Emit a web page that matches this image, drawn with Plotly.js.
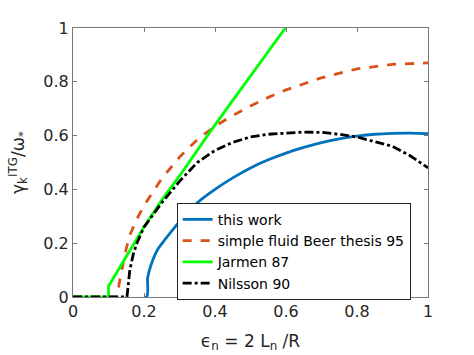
<!DOCTYPE html>
<html>
<head>
<meta charset="utf-8">
<script src="https://cdn.plot.ly/plotly-3.0.1.min.js"></script>
<style>html,body{margin:0;padding:0;background:#fff;}#chart{width:474px;height:355px;}</style>
</head>
<body>
<div id="chart"></div>
<script>
// ---- data ----
const thisWorkX = [0, 0.207, 0.21, 0.22, 0.24, 0.26, 0.3, 0.35, 0.4, 0.45, 0.5, 0.55, 0.6, 0.65, 0.7, 0.75, 0.8, 0.85, 0.9, 0.95, 1.0];
const thisWorkY = [0, 0, 0.07, 0.12, 0.18, 0.215, 0.28, 0.35, 0.40, 0.443, 0.48, 0.51, 0.535, 0.556, 0.574, 0.588, 0.598, 0.605, 0.608, 0.609, 0.607];

const beerX = [0, 0.125, 0.13, 0.14, 0.15, 0.16, 0.18, 0.2, 0.25, 0.3, 0.35, 0.4, 0.45, 0.5, 0.55, 0.6, 0.7, 0.8, 0.9, 1.0];
const beerY = [0, 0, 0.05, 0.12, 0.18, 0.23, 0.29, 0.34, 0.44, 0.52, 0.585, 0.635, 0.675, 0.71, 0.742, 0.77, 0.815, 0.848, 0.865, 0.87];

const jarmenX = [0, 0.1, 0.1, 0.15, 0.2, 0.25, 0.3, 0.4, 0.5, 0.6, 0.62];
const jarmenY = [0, 0, 0.04, 0.15, 0.26, 0.36, 0.45, 0.64, 0.82, 1.0, 1.04];

const nilssonX = [0, 0.152, 0.16, 0.17, 0.18, 0.2, 0.25, 0.3, 0.35, 0.4, 0.45, 0.5, 0.55, 0.6, 0.65, 0.7, 0.75, 0.8, 0.85, 0.9, 0.95, 1.0];
const nilssonY = [0, 0, 0.1, 0.16, 0.2, 0.26, 0.35, 0.43, 0.5, 0.545, 0.575, 0.595, 0.605, 0.61, 0.613, 0.612, 0.605, 0.595, 0.578, 0.56, 0.525, 0.48];

const seriesNames = ['this work', 'simple fluid Beer thesis 95', 'Jarmen 87', 'Nilsson 90'];
const xTicks = [0, 0.2, 0.4, 0.6, 0.8, 1];
const yTicks = [0, 0.2, 0.4, 0.6, 0.8, 1];
const xTickText = ['0', '0.2', '0.4', '0.6', '0.8', '1'];
const yTickText = ['0', '0.2', '0.4', '0.6', '0.8', '1'];

const FONT = 'DejaVu Sans, sans-serif';
const traces = [
  {x: thisWorkX, y: thisWorkY, name: seriesNames[0], mode: 'lines', line: {color: '#0072BD', width: 2.8, shape: 'spline', smoothing: 0.6}},
  {x: beerX, y: beerY, name: seriesNames[1], mode: 'lines', line: {color: '#D95319', width: 2.8, dash: 'dash'}},
  {x: jarmenX, y: jarmenY, name: seriesNames[2], mode: 'lines', line: {color: '#00FF00', width: 2.8}},
  {x: nilssonX, y: nilssonY, name: seriesNames[3], mode: 'lines', line: {color: '#000000', width: 2.8, dash: 'dashdot'}}
];

const axisCommon = {
  showline: true, linecolor: '#777777', linewidth: 1, mirror: 'ticks',
  ticks: 'inside', ticklen: 4, tickcolor: '#777777', showgrid: false, zeroline: false,
  tickfont: {family: FONT, size: 16, color: '#262626'}
};

const layout = {
  width: 474, height: 355,
  margin: {l: 73, r: 46, t: 28, b: 58},
  paper_bgcolor: '#fff', plot_bgcolor: '#fff',
  showlegend: true,
  xaxis: Object.assign({}, axisCommon, {
    range: [0, 1], tickvals: xTicks, ticktext: xTickText,
    title: {text: 'ϵ<sub>n</sub> = 2 L<sub>n</sub> /R', font: {family: FONT, size: 17, color: '#262626'}, standoff: 14}
  }),
  yaxis: Object.assign({}, axisCommon, {
    range: [0, 1], tickvals: yTicks, ticktext: yTickText,
    title: {text: 'γ<sub>k</sub><sup>ITG</sup>/ω<sub>*</sub>', font: {family: FONT, size: 17, color: '#262626'}, standoff: 14}
  }),
  legend: {
    x: 0.292, y: 0.35, xanchor: 'left', yanchor: 'top',
    bgcolor: '#fff', bordercolor: '#262626', borderwidth: 1,
    font: {family: FONT, size: 14, color: '#000'},
    tracegroupgap: 0
  }
};

Plotly.newPlot('chart', traces, layout, {displayModeBar: false, staticPlot: true});
</script>
</body>
</html>
